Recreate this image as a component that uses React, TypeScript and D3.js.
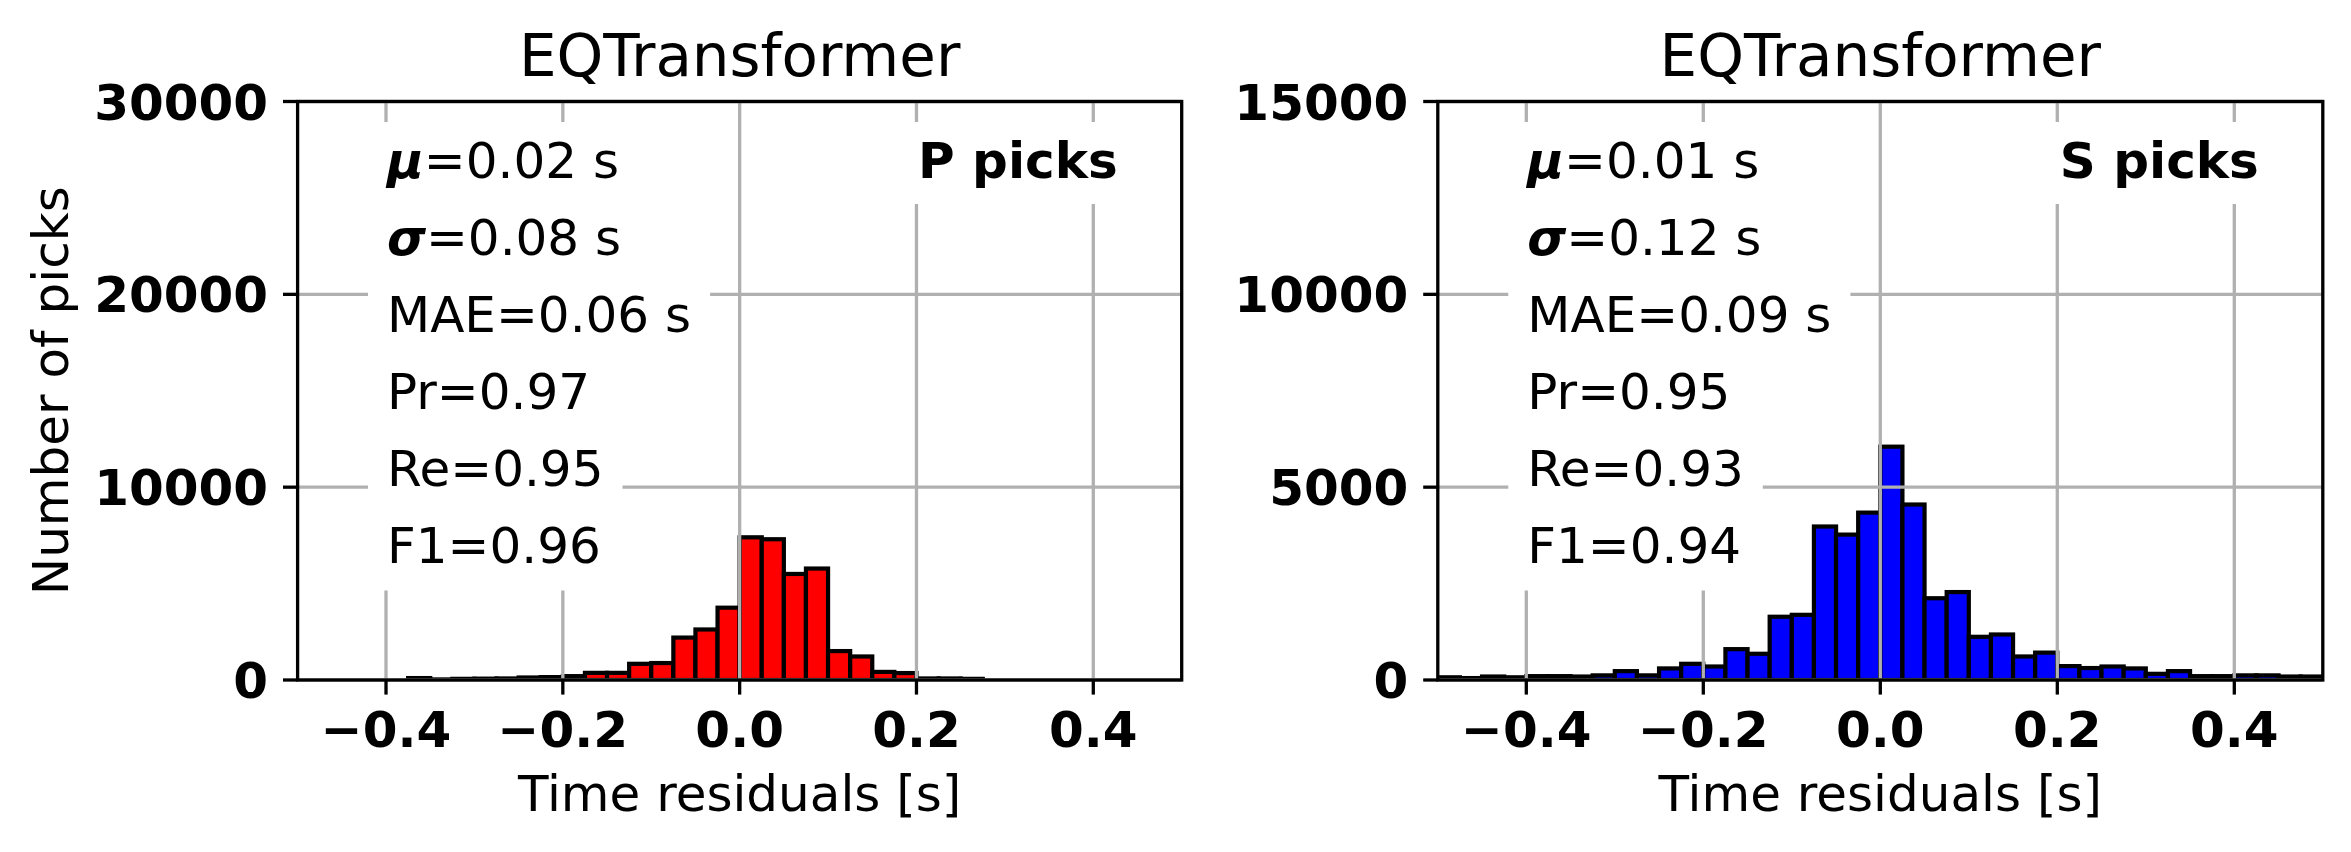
import React, { useEffect, useRef } from 'react';
import * as d3 from 'd3';

// ---- data ----
const binStart = -0.5;
const binWidth = 0.025;
const pCounts = [0, 0, 0, 0, 0, 100, 30, 60, 70, 80, 130, 150, 200, 370, 370, 840, 880, 2200, 2620, 3750,
  7400, 7300, 5500, 5780, 1500, 1220, 420, 360, 80, 80, 60, 0, 0, 0, 0, 0, 0, 0, 0, 0];
const sCounts = [70, 50, 90, 70, 100, 100, 90, 120, 230, 120, 300, 420, 350, 800, 680, 1640, 1690, 3980, 3770, 4340,
  6050, 4550, 2120, 2280, 1120, 1180, 610, 710, 360, 310, 350, 300, 160, 230, 100, 100, 120, 120, 90, 90];
const xTicks = [-0.4, -0.2, 0.0, 0.2, 0.4];
const pYTicks = [0, 10000, 20000, 30000];
const sYTicks = [0, 5000, 10000, 15000];
const statSymbols = ['μ', 'σ', 'MAE', 'Pr', 'Re', 'F1'];
const pStatValues = ['0.02 s', '0.08 s', '0.06 s', '0.97', '0.95', '0.96'];
const sStatValues = ['0.01 s', '0.12 s', '0.09 s', '0.95', '0.93', '0.94'];
const titles = ['EQTransformer', 'EQTransformer'];
const tags = ['P picks', 'S picks'];
const xLabel = 'Time residuals [s]';
const yLabel = 'Number of picks';

const W = 2351, H = 852;
const FONT = 'DejaVu Sans';

export default function App() {
  const ref = useRef<SVGSVGElement>(null);
  useEffect(() => {
    const svg = d3.select(ref.current);
    svg.selectAll('*').remove();
    const panels = [
      { counts: pCounts, yMax: 30000, yTicks: pYTicks, stats: pStatValues, color: '#ff0000', left: 297.6, right: 1181.7, ylab: true },
      { counts: sCounts, yMax: 15000, yTicks: sYTicks, stats: sStatValues, color: '#0000ff', left: 1437.8, right: 2322.8, ylab: false },
    ];
    const top = 101.5, bottom = 680;
    const fmtX = d3.format('.1f');
    panels.forEach((p, pi) => {
      const x = d3.scaleLinear().domain([-0.5, 0.5]).range([p.left, p.right]);
      const y = d3.scaleLinear().domain([0, p.yMax]).range([bottom, top]);
      const g = svg.append('g');
      const clipId = 'clip' + pi;
      svg.append('clipPath').attr('id', clipId).append('rect')
        .attr('x', p.left).attr('y', top).attr('width', p.right - p.left).attr('height', bottom - top);
      // bars
      g.append('g').attr('clip-path', `url(#${clipId})`).selectAll('rect').data(p.counts).join('rect')
        .attr('x', (_d, i) => x(binStart + i * binWidth))
        .attr('width', (_d, i) => x(binStart + (i + 1) * binWidth) - x(binStart + i * binWidth))
        .attr('y', d => y(d))
        .attr('height', d => y(0) - y(d))
        .attr('fill', p.color).attr('stroke', '#000').attr('stroke-width', 4.2);
      // grid
      const grid = g.append('g').attr('stroke', '#b0b0b0').attr('stroke-width', 3.3);
      xTicks.forEach(t => grid.append('line').attr('x1', x(t)).attr('x2', x(t)).attr('y1', top).attr('y2', bottom));
      p.yTicks.forEach(t => grid.append('line').attr('x1', p.left).attr('x2', p.right).attr('y1', y(t)).attr('y2', y(t)));
      // stat boxes
      const tx = p.left + 0.1 * (p.right - p.left) + 1;
      p.stats.forEach((v, k) => {
        const base = 178 + k * 76.9;
        const rect = g.append('rect').attr('fill', '#fff');
        const t = g.append('text').attr('x', tx).attr('y', base)
          .attr('font-family', FONT).attr('font-size', 50).attr('fill', '#000');
        const sym = statSymbols[k];
        if (sym === 'μ' || sym === 'σ') {
          t.append('tspan').attr('font-weight', 'bold').attr('font-style', 'italic').text(sym);
          t.append('tspan').text('=' + v);
        } else {
          t.text(sym + '=' + v);
        }
        const bb = (t.node() as SVGTextElement).getBBox();
        rect.attr('x', bb.x - 19).attr('width', bb.width + 38).attr('y', base - 56).attr('height', 84);
      });
      // tag
      {
        const base = 178;
        const rect = g.append('rect').attr('fill', '#fff');
        const t = g.append('text').attr('x', p.right - 64).attr('y', base).attr('text-anchor', 'end')
          .attr('font-family', FONT).attr('font-size', 50).attr('font-weight', 'bold').text(tags[pi]);
        const bb = (t.node() as SVGTextElement).getBBox();
        rect.attr('x', bb.x - 19).attr('width', bb.width + 38).attr('y', base - 56).attr('height', 82);
      }
      // spines
      g.append('rect').attr('x', p.left).attr('y', top).attr('width', p.right - p.left).attr('height', bottom - top)
        .attr('fill', 'none').attr('stroke', '#000').attr('stroke-width', 3.3);
      // x ticks
      xTicks.forEach(t => {
        g.append('line').attr('x1', x(t)).attr('x2', x(t)).attr('y1', bottom).attr('y2', bottom + 14.6)
          .attr('stroke', '#000').attr('stroke-width', 3.3);
        g.append('text').attr('x', x(t)).attr('y', 747).attr('text-anchor', 'middle')
          .attr('font-family', FONT).attr('font-size', 50).attr('font-weight', 'bold').text(fmtX(t));
      });
      p.yTicks.forEach(t => {
        g.append('line').attr('x1', p.left - 14.6).attr('x2', p.left).attr('y1', y(t)).attr('y2', y(t))
          .attr('stroke', '#000').attr('stroke-width', 3.3);
        g.append('text').attr('x', p.left - 29.5).attr('y', y(t) + 18).attr('text-anchor', 'end')
          .attr('font-family', FONT).attr('font-size', 50).attr('font-weight', 'bold').text(String(t));
      });
      // title
      g.append('text').attr('x', (p.left + p.right) / 2).attr('y', 76).attr('text-anchor', 'middle')
        .attr('font-family', FONT).attr('font-size', 59.5).text(titles[pi]);
      // x label
      g.append('text').attr('x', (p.left + p.right) / 2).attr('y', 811).attr('text-anchor', 'middle')
        .attr('font-family', FONT).attr('font-size', 50).text(xLabel);
      if (p.ylab) {
        g.append('text').attr('transform', `translate(68,${(top + bottom) / 2}) rotate(-90)`)
          .attr('text-anchor', 'middle').attr('font-family', FONT).attr('font-size', 50).text(yLabel);
      }
    });
  }, []);
  return (
    <svg ref={ref} width={W} height={H} style={{ position: 'absolute', left: 0, top: 0, background: '#fff' }} />
  );
}
